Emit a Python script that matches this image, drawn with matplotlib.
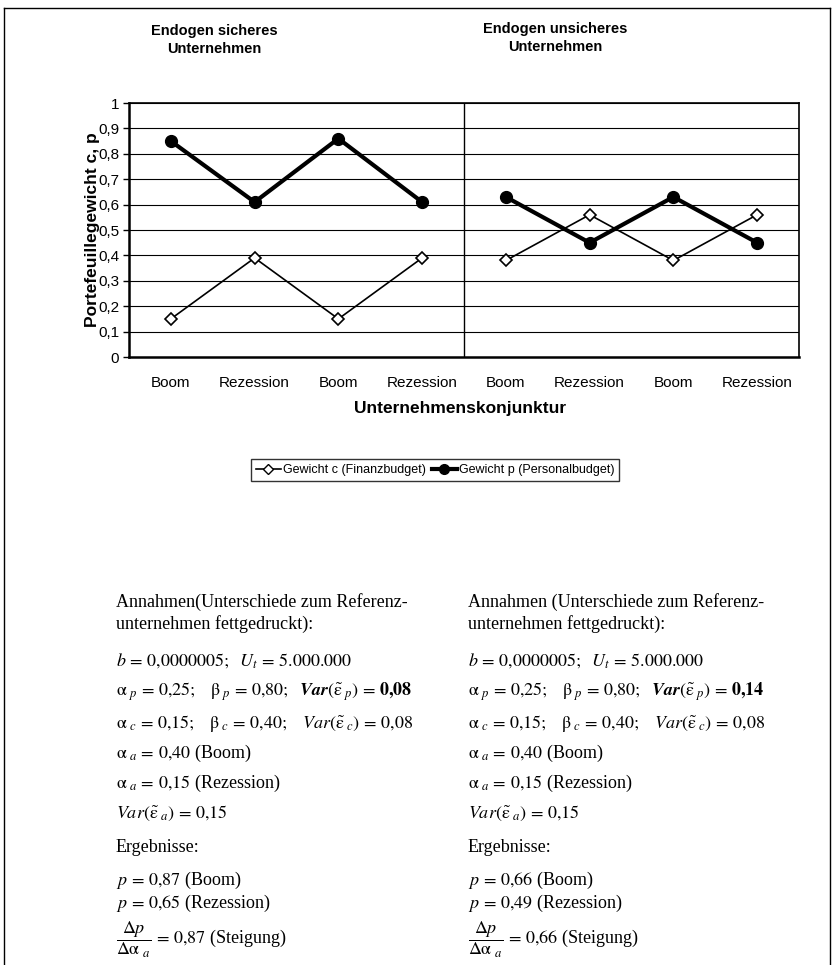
import matplotlib
matplotlib.use("Agg")
import matplotlib.pyplot as plt
from matplotlib.lines import Line2D

plt.rcParams['mathtext.fontset'] = 'stix'

# ---------------- data ----------------
categories = ["Boom", "Rezession", "Boom", "Rezession",
              "Boom", "Rezession", "Boom", "Rezession"]
weight_c = [0.15, 0.39, 0.15, 0.39, 0.38, 0.56, 0.38, 0.56]
weight_p = [0.85, 0.61, 0.86, 0.61, 0.63, 0.45, 0.63, 0.45]
yticks = [0, 0.1, 0.2, 0.3, 0.4, 0.5, 0.6, 0.7, 0.8, 0.9, 1.0]
ytick_labels = ["0", "0,1", "0,2", "0,3", "0,4", "0,5", "0,6", "0,7", "0,8", "0,9", "1"]
panel_titles = ["Endogen sicheres\nUnternehmen", "Endogen unsicheres\nUnternehmen"]
series_names = ["Gewicht c (Finanzbudget)", "Gewicht p (Personalbudget)"]
x_label = "Unternehmenskonjunktur"
y_label = "Portefeuillegewicht c, p"

W, H = 834, 965
fig = plt.figure(figsize=(W / 100, H / 100), dpi=100)


def fx(px):
    return px / W


def fy(py):
    return 1 - py / H


# outer frame
for (x0, y0, x1, y1) in [(4, 8, 830, 8), (4, 8, 4, 965), (830, 8, 830, 965)]:
    fig.add_artist(Line2D([fx(x0), fx(x1)], [fy(y0), fy(y1)], color='black', lw=1.0))

# ---------------- chart ----------------
left, right, top, bottom = 129, 799, 103, 357
ax = fig.add_axes([fx(left), fy(bottom), fx(right) - fx(left), (bottom - top) / H])
sans = 'Liberation Sans'
xs = list(range(len(categories)))

for g in yticks[1:]:
    ax.axhline(g, color='black', lw=0.8, zorder=1)
ax.axvline(3.5, color='black', lw=1.0, zorder=1)

for seg in (slice(0, 4), slice(4, 8)):
    ax.plot(xs[seg], weight_c[seg], color='black', lw=1.2, marker='D', ms=6.5,
            mfc='white', mec='black', mew=1.2, zorder=3)
    ax.plot(xs[seg], weight_p[seg], color='black', lw=3.0, marker='o', ms=8.5,
            mfc='black', mec='black', zorder=4)

ax.set_xlim(-0.5, 7.5)
ax.set_ylim(0, 1)
ax.set_yticks(yticks)
ax.set_yticklabels(ytick_labels, fontfamily=sans, fontsize=11)
ax.set_xticks(xs)
ax.set_xticklabels(categories, fontfamily=sans, fontsize=11)
ax.tick_params(axis='x', length=0, pad=14)
ax.tick_params(axis='y', length=4, width=1, direction='out', pad=3)
for s in ax.spines.values():
    s.set_linewidth(1.2)
ax.spines['bottom'].set_linewidth(1.8)
ax.spines['left'].set_linewidth(1.8)

fig.text(fx(92), fy(230), y_label, rotation=90, ha='center', va='center',
         fontfamily=sans, fontweight='bold', fontsize=12.5)
fig.text(fx(460), fy(409), x_label, ha='center', va='center',
         fontfamily=sans, fontweight='bold', fontsize=12.5)
fig.text(fx(214), fy(40), panel_titles[0], ha='center', va='center',
         fontfamily=sans, fontweight='bold', fontsize=10.5, linespacing=1.35)
fig.text(fx(555), fy(38), panel_titles[1], ha='center', va='center',
         fontfamily=sans, fontweight='bold', fontsize=10.5, linespacing=1.35)

handles = [
    Line2D([], [], color='black', lw=1.2, marker='D', ms=5.5, mfc='white', mec='black'),
    Line2D([], [], color='black', lw=3.0, marker='o', ms=7, mfc='black', mec='black'),
]
leg = fig.legend(handles, series_names, loc='center', bbox_to_anchor=(fx(435), fy(470)),
                 ncol=2, frameon=True, fancybox=False, edgecolor='black',
                 prop={'family': sans, 'size': 9}, handlelength=2.0,
                 handletextpad=0.15, columnspacing=0.5, borderpad=0.4,
                 borderaxespad=0)
leg.get_frame().set_linewidth(1.0)

# ---------------- text blocks ----------------
serif = 'Liberation Serif'
fs = 13

left_lines = [
    (602, "Annahmen(Unterschiede zum Referenz-"),
    (624, "unternehmen fettgedruckt):"),
    (661, r"$b\,=\,0{,}0000005;\ \ U_t\,=\,5.000.000$"),
    (692, r"$\mathrm{\alpha}_{\ p}\,=\,0{,}25;\ \ \ \mathrm{\beta}_{\ p}\,=\,0{,}80;\ \ \mathbfit{Var}(\tilde{\mathrm{\varepsilon}}_{\ p})\,=\,\mathbf{0{,}08}$"),
    (723, r"$\mathrm{\alpha}_{\ c}\,=\,0{,}15;\ \ \ \mathrm{\beta}_{\ c}\,=\,0{,}40;\ \ \ Var(\tilde{\mathrm{\varepsilon}}_{\ c})\,=\,0{,}08$"),
    (753, r"$\mathrm{\alpha}_{\ a}\,=\,0{,}40$ (Boom)"),
    (783, r"$\mathrm{\alpha}_{\ a}\,=\,0{,}15$ (Rezession)"),
    (813, r"$Var(\tilde{\mathrm{\varepsilon}}_{\ a})\,=\,0{,}15$"),
    (847, "Ergebnisse:"),
    (880, r"$p\,=\,0{,}87$ (Boom)"),
    (903, r"$p\,=\,0{,}65$ (Rezession)"),
    (940, r"$\dfrac{\Delta p}{\Delta\mathrm{\alpha}_{\ a}}\,=\,0{,}87$ (Steigung)"),
]
right_lines = [
    (602, "Annahmen (Unterschiede zum Referenz-"),
    (624, "unternehmen fettgedruckt):"),
    (661, r"$b\,=\,0{,}0000005;\ \ U_t\,=\,5.000.000$"),
    (692, r"$\mathrm{\alpha}_{\ p}\,=\,0{,}25;\ \ \ \mathrm{\beta}_{\ p}\,=\,0{,}80;\ \ \mathbfit{Var}(\tilde{\mathrm{\varepsilon}}_{\ p})\,=\,\mathbf{0{,}14}$"),
    (723, r"$\mathrm{\alpha}_{\ c}\,=\,0{,}15;\ \ \ \mathrm{\beta}_{\ c}\,=\,0{,}40;\ \ \ Var(\tilde{\mathrm{\varepsilon}}_{\ c})\,=\,0{,}08$"),
    (753, r"$\mathrm{\alpha}_{\ a}\,=\,0{,}40$ (Boom)"),
    (783, r"$\mathrm{\alpha}_{\ a}\,=\,0{,}15$ (Rezession)"),
    (813, r"$Var(\tilde{\mathrm{\varepsilon}}_{\ a})\,=\,0{,}15$"),
    (847, "Ergebnisse:"),
    (880, r"$p\,=\,0{,}66$ (Boom)"),
    (903, r"$p\,=\,0{,}49$ (Rezession)"),
    (940, r"$\dfrac{\Delta p}{\Delta\mathrm{\alpha}_{\ a}}\,=\,0{,}66$ (Steigung)"),
]
for x0, lines in [(116, left_lines), (468, right_lines)]:
    for y, t in lines:
        fig.text(fx(x0), fy(y), t, ha='left', va='center', fontfamily=serif, fontsize=fs)

fig.savefig("out.png", dpi=100)
